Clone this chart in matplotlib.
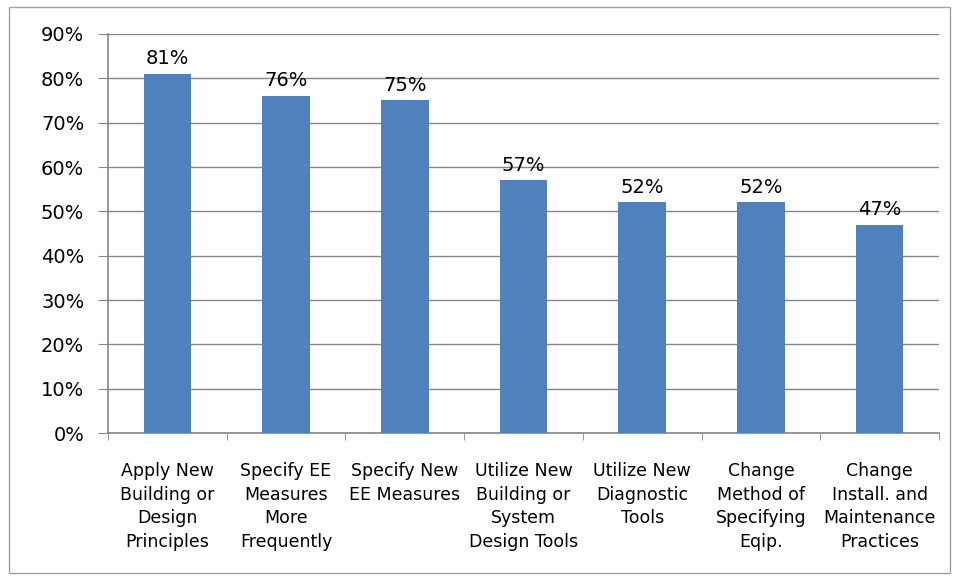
import matplotlib.pyplot as plt
from matplotlib.patches import Rectangle
import numpy as np

categories = ["Apply New\nBuilding or\nDesign\nPrinciples",
              "Specify EE\nMeasures\nMore\nFrequently",
              "Specify New\nEE Measures",
              "Utilize New\nBuilding or\nSystem\nDesign Tools",
              "Utilize New\nDiagnostic\nTools",
              "Change\nMethod of\nSpecifying\nEqip.",
              "Change\nInstall. and\nMaintenance\nPractices"]
values = [81, 76, 75, 57, 52, 52, 47]

plt.rcParams['font.family'] = ['DejaVu Sans']

fig = plt.figure(figsize=(9.59, 5.8), dpi=100)
ax = fig.add_axes([0.1126, 0.2534, 0.8665, 0.688])

grey = '#868686'
x = np.arange(len(values))
ax.bar(x, values, width=0.4, color='#4F81BD', zorder=3)
for xi, v in zip(x, values):
    ax.text(xi, v + 1.3, f"{v}%", ha='center', va='bottom', fontsize=14)

ax.set_xlim(-0.5, len(values) - 0.5)
ax.set_ylim(0, 90)
ax.set_yticks(np.arange(0, 91, 10))
ax.set_yticklabels([f"{t}%" for t in range(0, 91, 10)], fontsize=14)
ax.yaxis.grid(True, color=grey, linewidth=1, zorder=0)

ax.set_xticks(x)
ax.set_xticklabels(categories, fontsize=12.5, linespacing=1.4)
ax.set_xticks(np.arange(-0.5, len(values), 1), minor=True)
ax.tick_params(axis='x', which='major', length=0, pad=21)
ax.tick_params(axis='x', which='minor', length=5, color=grey, direction='out')
ax.tick_params(axis='y', length=7, color=grey, direction='out', pad=10)

for s in ['top', 'right']:
    ax.spines[s].set_visible(False)
for s in ['left', 'bottom']:
    ax.spines[s].set_color(grey)
    ax.spines[s].set_linewidth(1.2)

fig.patches.append(Rectangle((0.0095, 0.012), 0.981, 0.976, transform=fig.transFigure,
                             fill=False, edgecolor='#A0A0A0', linewidth=1))

fig.savefig('out.png', dpi=100)
